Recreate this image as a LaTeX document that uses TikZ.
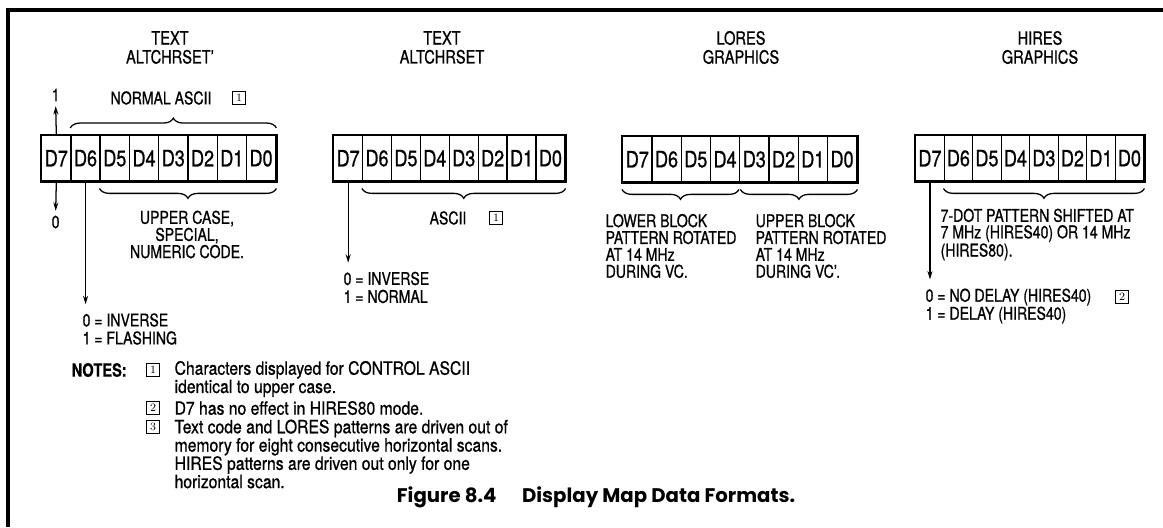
\documentclass[tikz,border=0pt]{standalone}
\usepackage{fontspec}
\usepackage{tikz}
\usetikzlibrary{arrows.meta, decorations.pathreplacing}
\newfontfamily\lbl{TeX Gyre Heros}[FakeStretch=0.8, FakeBold=0.8]
\newfontfamily\notefont{TeX Gyre Heros}[FakeStretch=0.86, FakeBold=0.8]
\newfontfamily\capfont{Poppins}

\tikzset{
  cell/.style={draw, line width=1pt, minimum width=#1, minimum height=1.125cm,
    inner sep=0pt, anchor=north west, font=\lbl\fontsize{16}{16}\selectfont},
  headline/.style={align=center, inner sep=0pt, font=\lbl\fontsize{13}{13.5}\selectfont},
  txt/.style={inner sep=0pt, font=\lbl\fontsize{12.5}{12.8}\selectfont},
  note/.style={inner sep=0pt, anchor=west, align=left, font=\notefont\fontsize{13}{13}\selectfont},
  numbox/.style={draw, line width=0.7pt, minimum width=0.34cm, minimum height=0.31cm,
    inner sep=0pt, font=\fontsize{8}{8}\selectfont},
  curly/.style={decorate, decoration={brace, amplitude=7pt}, line width=0.9pt},
}

\begin{document}
\begin{tikzpicture}[x=0.025cm, y=-0.025cm, >={Stealth[length=6pt,width=3.6pt]}, line width=0.9pt]
    \useasboundingbox (0,0) rectangle (1163,527);
    % 0. Khung
    \draw[line width=2.2pt] (8,527) -- (8,10) -- (1163,10);

    % 1. TEXT ALTCHRSET'
    \node[headline] (hA) at (170,47.5) {TEXT\\ALTCHRSET’};
    \foreach \b [count=\k from 0] in {7,6,5,4,3,2,1,0}
        \node[cell=0.731cm] (ta\b) at ({41+\k*29.25},135) {D\b};
    \draw[line width=1.7pt] (ta7.north west) rectangle (ta0.south east);
    \node[txt] (oneA) at (55.6,95) {1};
    \node[txt] (zeroA) at (55.6,222) {0};
    \draw[->, shorten >=3pt] (ta7.north) -- (oneA.south);
    \draw[->, shorten >=3pt] (ta7.south) -- (zeroA.north);
    \draw[curly] ([yshift=5pt]ta6.north west) -- ([yshift=5pt]ta0.north east);
    \node[txt] (normA) at (161,98) {NORMAL ASCII};
    \node[numbox] (nbA) at (239,98) {1};
    \draw[curly] ([yshift=-5pt]ta0.south east) -- ([yshift=-5pt]ta5.south west);
    \node[txt, align=center, font=\lbl\fontsize{12.5}{10.5}\selectfont] (upA) at (187,234.5)
        {UPPER CASE,\\SPECIAL,\\NUMERIC CODE.};
    \node[txt, align=left, anchor=west] (valA) at (82,329) {0 = INVERSE\\1 = FLASHING};
    \draw[->, shorten >=6pt] (ta6.south) -- (ta6.south |- valA.north);

    % 2. TEXT ALTCHRSET
    \node[headline] (hB) at (442,47.5) {TEXT\\ALTCHRSET};
    \foreach \b [count=\k from 0] in {7,6,5,4,3,2,1,0}
        \node[cell=0.7225cm] (tb\b) at ({333+\k*28.9},135) {D\b};
    \draw[line width=1.7pt] (tb7.north west) rectangle (tb0.south east);
    \draw[curly] ([yshift=-5pt]tb0.south east) -- ([yshift=-5pt]tb6.south west);
    \node[txt] (asciiB) at (448,218) {ASCII};
    \node[numbox] (nbB) at (496,218) {1};
    \node[txt, align=left, anchor=west] (valB) at (343,287.5) {0 = INVERSE\\1 = NORMAL};
    \draw[->, shorten >=6pt] (tb7.south) -- (tb7.south |- valB.north);

    % 3. LORES GRAPHICS
    \node[headline] (hC) at (741,47.5) {LORES\\GRAPHICS};
    \foreach \b [count=\k from 0] in {7,6,5,4,3,2,1,0}
        \node[cell=0.731cm] (lo\b) at ({622+\k*29.25},136) {D\b};
    \draw[line width=1.7pt] (lo7.north west) rectangle (lo0.south east);
    \draw[curly] ([xshift=-1pt, yshift=-5pt]lo4.south east) -- ([yshift=-5pt]lo7.south west);
    \draw[curly] ([yshift=-5pt]lo0.south east) -- ([xshift=1pt, yshift=-5pt]lo3.south west);
    \node[txt, align=left, anchor=west, font=\lbl\fontsize{12.5}{12}\selectfont] (lowC) at (605,246)
        {LOWER BLOCK\\PATTERN ROTATED\\AT 14 MHz\\DURING VC.};
    \node[txt, align=left, anchor=west, font=\lbl\fontsize{12.5}{12}\selectfont] (upC) at (755,246)
        {UPPER BLOCK\\PATTERN ROTATED\\AT 14 MHz\\DURING VC’.};

    % 4. HIRES GRAPHICS
    \node[headline] (hD) at (1040,47.5) {HIRES\\GRAPHICS};
    \foreach \b [count=\k from 0] in {7,6,5,4,3,2,1,0}
        \node[cell=0.7125cm] (hi\b) at ({915+\k*28.5},135) {D\b};
    \draw[line width=1.7pt] (hi7.north west) rectangle (hi0.south east);
    \draw[curly] ([yshift=-5pt]hi0.south east) -- ([yshift=-5pt]hi6.south west);
    \node[txt, align=left, anchor=west, font=\lbl\fontsize{12.5}{11.7}\selectfont] (patD) at (940,234.5)
        {7-DOT PATTERN SHIFTED AT\\7 MHz (HIRES40) OR 14 MHz\\(HIRES80).};
    \node[txt, align=left, anchor=west] (valD) at (925,306) {0 = NO DELAY (HIRES40)\\1 = DELAY (HIRES40)};
    \node[numbox] (nbD) at (1122,297) {2};
    \draw[->, shorten >=6pt] (hi7.south) -- (hi7.south |- valD.north);

    % 5. Ghi chu
    \node[txt, anchor=west, font=\lbl\bfseries\fontsize{13}{13}\selectfont] (notes) at (71,370) {NOTES:};
    \node[numbox] (nb1) at (153,370) {1};
    \node[numbox] (nb2) at (153,408) {2};
    \node[numbox] (nb3) at (153,427) {3};
    \node[note] (n1) at (174,379) {Characters displayed for CONTROL ASCII\\identical to upper case.};
    \node[note] (n2) at (174,408) {D7 has no effect in HIRES80 mode.};
    \node[note] (n3) at (174,454) {Text code and LORES patterns are driven out of\\memory for eight consecutive horizontal scans.\\HIRES patterns are driven out only for one\\horizontal scan.};

    % 6. Tieu de
    \node[inner sep=0pt, font=\capfont\bfseries\fontsize{14}{14}\selectfont] (cap) at (596,497)
        {Figure 8.4\hspace{1.3em}Display Map Data Formats.};
\end{tikzpicture}
\end{document}
